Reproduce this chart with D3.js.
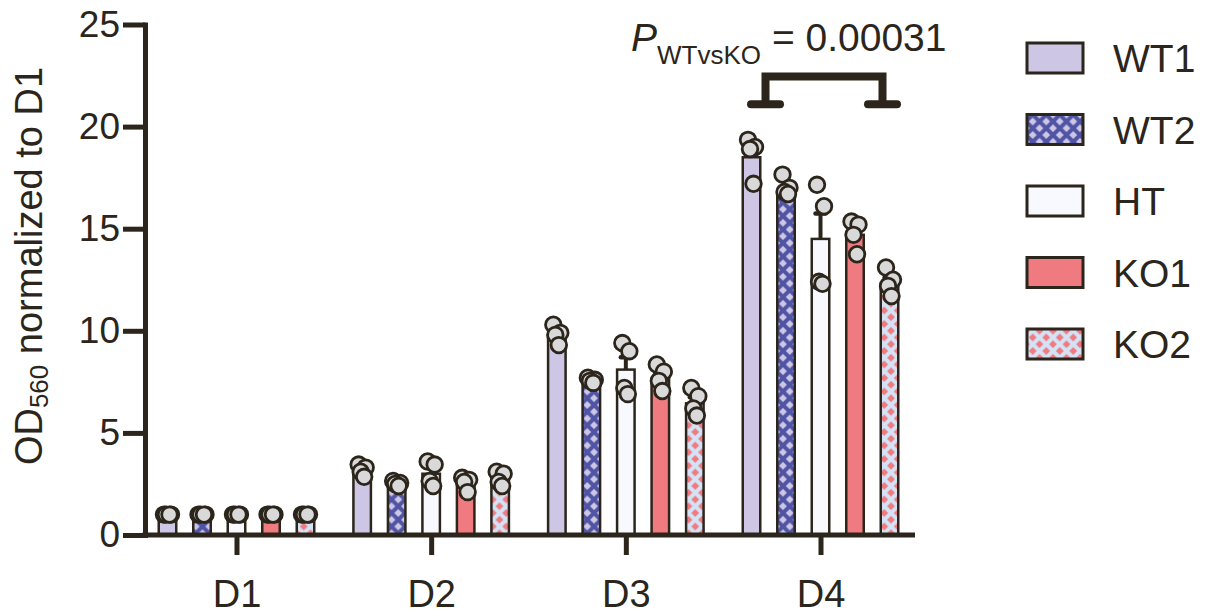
<!DOCTYPE html>
<html>
<head>
<meta charset="utf-8">
<script src="https://cdn.jsdelivr.net/npm/d3@7"></script>
<style>
  html, body { margin: 0; padding: 0; background: #fff; }
  svg { display: block; font-family: 'Liberation Sans', Arial, sans-serif; }
</style>
</head>
<body>
<div id="chart"></div>
<script>
// days on the x axis, genotypes as bars
const GROUPS= ['D1', 'D2', 'D3', 'D4'];
const SERIES= ['WT1', 'WT2', 'HT', 'KO1', 'KO2'];
const Y_TICKS= [0, 5, 10, 15, 20, 25];

// bar heights (mean), one value per day
const MEAN_WT1= [1.0, 3.1, 9.75, 18.5];
const MEAN_WT2= [1.0, 2.5, 7.45, 16.8];
const MEAN_HT=  [1.0, 3.0, 8.1, 14.5];
const MEAN_KO1= [1.0, 2.5, 7.65, 14.7];
const MEAN_KO2= [1.0, 2.75, 6.45, 12.3];

// upper error bar (SEM)
const SEM_WT1= [0.02, 0.15, 0.2, 0.45];
const SEM_WT2= [0.02, 0.05, 0.07, 0.25];
const SEM_HT=  [0.02, 0.29, 0.6, 1.25];
const SEM_KO1= [0.02, 0.15, 0.25, 0.3];
const SEM_KO2= [0.02, 0.17, 0.3, 0.3];

// replicate points, per day
const PTS_WT1= [[1, 1, 1, 1], [3.45, 3.3, 3.1, 2.85], [10.3, 9.9, 9.8, 9.3], [19.35, 19.0, 18.9, 17.2]];
const PTS_WT2= [[1, 1, 1, 1], [2.65, 2.55, 2.5, 2.4], [7.7, 7.6, 7.55, 7.45], [17.65, 17.0, 16.8, 16.7]];
const PTS_HT=  [[1, 1, 1, 1], [3.6, 3.45, 2.65, 2.4], [9.4, 9.0, 7.2, 6.9], [17.15, 16.1, 12.4, 12.3]];
const PTS_KO1= [[1, 1, 1, 1], [2.8, 2.7, 2.6, 2.1], [8.35, 8.0, 7.55, 7.05], [15.35, 15.2, 14.7, 13.75]];
const PTS_KO2= [[1, 1, 1, 1], [3.1, 3.0, 2.6, 2.4], [7.2, 6.8, 6.2, 5.85], [13.1, 12.5, 12.2, 11.7]];

const P_LABEL= 'WTvsKO';
const P_VALUE= '0.00031';

const W= 1214, H= 615;
const INK= '#2b251b';
const FILLS= { WT1: '#cdc6e4', WT2: 'url(#patWT2)', HT: '#f8f9fe', KO1: '#ef7b80', KO2: 'url(#patKO2)' };

const table= SERIES.map((s, si) => ({
  key: s,
  mean: [MEAN_WT1, MEAN_WT2, MEAN_HT, MEAN_KO1, MEAN_KO2][si],
  sem: [SEM_WT1, SEM_WT2, SEM_HT, SEM_KO1, SEM_KO2][si],
  pts: [PTS_WT1, PTS_WT2, PTS_HT, PTS_KO1, PTS_KO2][si],
}));

const svg= d3.select('#chart').append('svg')
  .attr('width', W).attr('height', H)
  .attr('viewBox', `0 0 ${W} ${H}`);

// hatch patterns: diagonal lattice giving diamonds
const defs= svg.append('defs');
const _pattern= (id, bg, line) => {
  const L= 13.5;
  const p= defs.append('pattern')
    .attr('id', id)
    .attr('patternUnits', 'userSpaceOnUse')
    .attr('width', L).attr('height', L);
  p.append('rect').attr('width', L).attr('height', L).attr('fill', bg);
  p.append('path')
    .attr('d', `M-1,-1L${L+1},${L+1}M${L+1},-1L-1,${L+1}`)
    .attr('stroke', line).attr('stroke-width', 4);
};
_pattern('patWT2', '#cdc6e4', '#4f54a5');
_pattern('patKO2', '#ef7b80', '#d3e3f5');

const X0= 145, X1= 915;
const ySc= d3.scaleLinear().domain([0, 25]).range([535, 24.5]);
const xSc= d3.scalePoint().domain(GROUPS).range([X0, 912]).padding(0.47);
const xSub= d3.scalePoint().domain(SERIES).range([-69, 69]);
const BAR_W= 17.5;

const g= svg.append('g');

// bars
table.forEach(s => {
  g.selectAll(null).data(GROUPS).join('rect')
    .attr('x', d => xSc(d)+xSub(s.key)-BAR_W/2)
    .attr('y', (d, i) => ySc(s.mean[i]))
    .attr('width', BAR_W)
    .attr('height', (d, i) => ySc(0)-ySc(s.mean[i]))
    .attr('fill', FILLS[s.key])
    .attr('stroke', INK).attr('stroke-width', 2.5);
});

// error bars (upper only)
table.forEach(s => {
  GROUPS.forEach((d, i) => {
    const cx= xSc(d)+xSub(s.key);
    const top= ySc(s.mean[i]+s.sem[i]);
    g.append('line')
      .attr('x1', cx).attr('x2', cx)
      .attr('y1', ySc(s.mean[i])).attr('y2', top)
      .attr('stroke', INK).attr('stroke-width', 4);
    g.append('line')
      .attr('x1', cx-5).attr('x2', cx+5)
      .attr('y1', top).attr('y2', top)
      .attr('stroke', INK).attr('stroke-width', 4.5)
      .attr('stroke-linecap', 'round');
  });
});

// replicate dots
const JIT= [-3.5, 3.5, -1.5, 2];
table.forEach(s => {
  GROUPS.forEach((d, i) => {
    g.selectAll(null).data(s.pts[i]).join('circle')
      .attr('cx', (v, k) => xSc(d)+xSub(s.key)+JIT[k % JIT.length])
      .attr('cy', v => ySc(v))
      .attr('r', 7.8)
      .attr('fill', '#d9d9d9')
      .attr('stroke', INK).attr('stroke-width', 2.8);
  });
});

// y axis
const yAx= svg.append('g')
  .attr('transform', `translate(${X0},0)`)
  .call(d3.axisLeft(ySc).tickValues(Y_TICKS).tickSize(22).tickSizeOuter(0).tickPadding(3));
yAx.select('.domain').attr('stroke', INK).attr('stroke-width', 5).attr('stroke-linecap', 'square');
yAx.selectAll('.tick line').attr('stroke', INK).attr('stroke-width', 5);
yAx.selectAll('.tick text')
  .attr('fill', INK).attr('font-size', 37)
  .attr('font-family', "'Liberation Sans', Arial, sans-serif");

// x axis
const xAx= svg.append('g')
  .attr('transform', `translate(0,${ySc(0)})`)
  .call(d3.axisBottom(xSc).tickSize(20).tickSizeOuter(0).tickPadding(25));
xAx.select('.domain').attr('d', `M${X0-2.5},0H${X1}`)
  .attr('stroke', INK).attr('stroke-width', 5);
xAx.selectAll('.tick line').attr('stroke', INK).attr('stroke-width', 5);
xAx.selectAll('.tick text')
  .attr('fill', INK).attr('font-size', 38)
  .attr('font-family', "'Liberation Sans', Arial, sans-serif");

// y axis title
const yt= svg.append('text')
  .attr('transform', 'rotate(-90)')
  .attr('x', -266).attr('y', 42)
  .attr('text-anchor', 'middle')
  .attr('fill', INK).attr('font-size', 38);
yt.append('tspan').text('OD');
yt.append('tspan').attr('font-size', 26).attr('dy', 6).text('560');
yt.append('tspan').attr('dy', -6).text(' normalized to D1');

// significance bracket WT vs KO on D4
const legL= xSc('D4')+xSub('WT1')+14;
const legR= xSc('D4')+xSub('KO2')-7;
const brTop= ySc(22.45), brFoot= ySc(21.1);
svg.append('path')
  .attr('d', `M${legL},${brFoot}V${brTop}H${legR}V${brFoot}`)
  .attr('fill', 'none').attr('stroke', INK).attr('stroke-width', 8)
  .attr('stroke-linejoin', 'miter');
[legL, legR].forEach(x => {
  svg.append('line')
    .attr('x1', x-14.5).attr('x2', x+14.5)
    .attr('y1', brFoot).attr('y2', brFoot)
    .attr('stroke', INK).attr('stroke-width', 8)
    .attr('stroke-linecap', 'round');
});

const pt= svg.append('text')
  .attr('x', legR+64).attr('y', ySc(23.7))
  .attr('text-anchor', 'end')
  .attr('fill', INK).attr('font-size', 39);
pt.append('tspan').attr('font-style', 'italic').text('P');
pt.append('tspan').attr('font-size', 26).attr('dy', 13).text(P_LABEL);
pt.append('tspan').attr('dy', -13).text(` = ${P_VALUE}`);

// legend
const LG_X= 1027, LG_Y= 43, LG_STEP= 71.5;
SERIES.forEach((s, i) => {
  const y= LG_Y+i*LG_STEP;
  svg.append('rect')
    .attr('x', LG_X).attr('y', y)
    .attr('width', 56).attr('height', 30)
    .attr('fill', FILLS[s])
    .attr('stroke', INK).attr('stroke-width', 3);
  svg.append('text')
    .attr('x', LG_X+86).attr('y', y+15)
    .attr('dy', '0.36em')
    .attr('fill', INK).attr('font-size', 39)
    .text(s);
});
</script>
</body>
</html>
